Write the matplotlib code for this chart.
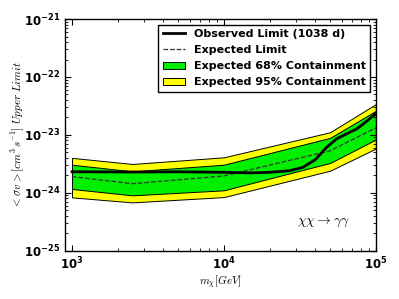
import numpy as np
import matplotlib
matplotlib.use("Agg")
import matplotlib.pyplot as plt
from matplotlib.ticker import LogLocator, FixedLocator, FuncFormatter, NullFormatter

# band vertices (GeV) and limits (cm^3 s^-1)
mass = [1000, 2500, 10000, 50000, 100000]
upper_95 = [4.0e-24, 3.14e-24, 4.09e-24, 1.11e-23, 3.4e-23]
upper_68 = [3.05e-24, 2.34e-24, 3.05e-24, 8.87e-24, 2.6e-23]
lower_68 = [1.16e-24, 9.0e-25, 1.1e-24, 3.27e-24, 8.3e-24]
lower_95 = [8.3e-25, 6.8e-25, 8.4e-25, 2.4e-24, 5.8e-24]
expected = [1.9e-24, 1.43e-24, 1.95e-24, 5.3e-24, 1.32e-23]

# observed limit
obs_mass = [1000, 2500, 5000, 10000, 15000, 20000, 27000, 33000, 40000,
            47000, 55000, 64000, 75000, 87000, 100000]
observed = [2.3e-24, 2.28e-24, 2.3e-24, 2.25e-24, 2.2e-24, 2.25e-24, 2.4e-24,
            2.74e-24, 3.73e-24, 5.96e-24, 8.5e-24, 1.04e-23, 1.27e-23,
            1.72e-23, 2.33e-23]

x_ticks = [1e3, 1e4, 1e5]
y_ticks = [1e-25, 1e-24, 1e-23, 1e-22, 1e-21]

plt.rcParams['xtick.direction'] = 'in'
plt.rcParams['ytick.direction'] = 'in'
plt.rcParams['xtick.top'] = True
plt.rcParams['ytick.right'] = True

fig = plt.figure(figsize=(3.99, 2.99), dpi=100)
ax = fig.add_axes([0.163, 0.162, 0.779, 0.774])

ax.fill_between(mass, lower_95, upper_95, facecolor='#ffff00', edgecolor='black',
                linewidth=0.7, label='Expected 95% Containment')
ax.fill_between(mass, lower_68, upper_68, facecolor='#00ee00', edgecolor='black',
                linewidth=0.7, label='Expected 68% Containment')
ax.plot(mass, expected, '--', color='#333333', linewidth=0.9, label='Expected Limit')
ax.plot(obs_mass, observed, '-', color='black', linewidth=2.0,
        label='Observed Limit (1038 d)')

ax.set_xscale('log')
ax.set_yscale('log')
ax.set_xlim(900, 1e5)
ax.set_ylim(1e-25, 1e-21)

fmt = FuncFormatter(lambda v, pos: r'$\mathbf{10^{%d}}$' % round(np.log10(v)))
ax.xaxis.set_major_locator(FixedLocator(x_ticks))
ax.yaxis.set_major_locator(FixedLocator(y_ticks))
ax.xaxis.set_minor_locator(LogLocator(base=10, subs=np.arange(2, 10), numticks=20))
ax.yaxis.set_minor_locator(LogLocator(base=10, subs=np.arange(2, 10), numticks=20))
ax.xaxis.set_major_formatter(fmt)
ax.yaxis.set_major_formatter(fmt)
ax.xaxis.set_minor_formatter(NullFormatter())
ax.yaxis.set_minor_formatter(NullFormatter())
ax.tick_params(which='major', length=4, width=0.8, labelsize=8.5)
ax.tick_params(which='minor', length=2, width=0.6)
for s in ax.spines.values():
    s.set_linewidth(1.0)

ax.set_xlabel(r'$m_{\chi}[GeV]$', fontsize=8, math_fontfamily='cm')
ax.set_ylabel(r'$<\sigma v>[cm^{3}\,s^{-1}]\ Upper\ Limit$', fontsize=8,
              math_fontfamily='cm')
ax.xaxis.set_label_coords(0.5, -0.1)
ax.yaxis.set_label_coords(-0.122, 0.5)

ax.text(0.746, 0.123, r'$\chi\chi\rightarrow\gamma\gamma$', transform=ax.transAxes,
        fontsize=10, math_fontfamily='cm', ha='left', va='center')

handles, labels = ax.get_legend_handles_labels()
order = [3, 2, 1, 0]
leg = ax.legend([handles[i] for i in order], [labels[i] for i in order],
                loc='upper right', prop={'weight': 'bold', 'size': 8},
                fancybox=False, framealpha=1, edgecolor='black',
                borderaxespad=0.5, labelspacing=0.55, handlelength=2.0)
leg.get_frame().set_linewidth(1.0)

fig.savefig('out.png', dpi=100, facecolor='white')
